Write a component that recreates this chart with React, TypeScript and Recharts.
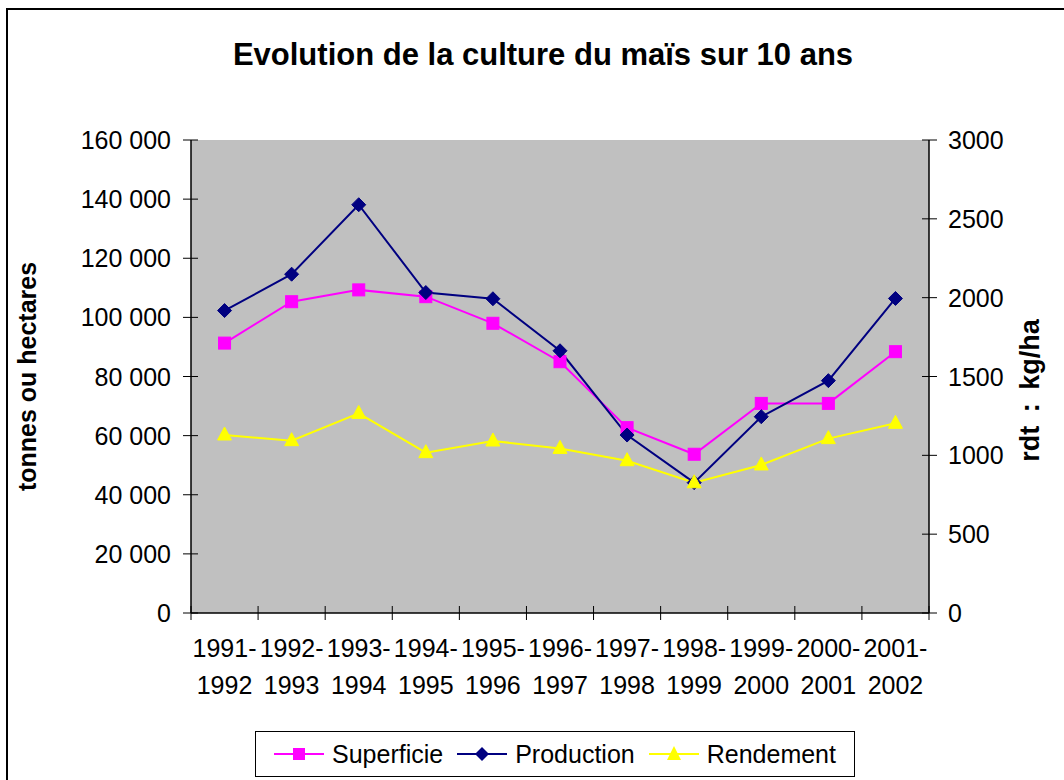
import React from 'react';
import { LineChart, Line, XAxis, YAxis, Legend } from 'recharts';

const categories = ['1991-1992', '1992-1993', '1993-1994', '1994-1995', '1995-1996', '1996-1997', '1997-1998', '1998-1999', '1999-2000', '2000-2001', '2001-2002'];
const superficie = [91300, 105300, 109300, 107000, 98000, 85000, 62700, 53700, 70900, 70900, 88400];
const production = [102300, 114600, 138100, 108400, 106300, 88700, 60200, 44100, 66400, 78600, 106400];
const rendement = [1129, 1093, 1266, 1017, 1091, 1044, 966, 826, 939, 1106, 1203];
const leftTicks = [0, 20000, 40000, 60000, 80000, 100000, 120000, 140000, 160000];
const rightTicks = [0, 500, 1000, 1500, 2000, 2500, 3000];

const data = categories.map((c, i) => ({
  cat: c,
  Superficie: superficie[i],
  Production: production[i],
  Rendement: rendement[i],
}));

const FONT = '"Liberation Sans", Arial, sans-serif';
const FS = 25;
const PLOT_W = 738;
const BW = PLOT_W / categories.length;

const fmt = (v: number) => String(v).replace(/\B(?=(\d{3})+(?!\d))/g, ' ');

const LeftTick = (props: any) => {
  const { x, y, payload } = props;
  return (
    <g>
      <line x1={x - 8} y1={y} x2={x + 7} y2={y} stroke="#000" strokeWidth={1} />
      <text x={x - 20} y={y} dy={9} textAnchor="end" fontSize={FS} fontFamily={FONT} fill="#000">{fmt(payload.value)}</text>
    </g>
  );
};

const RightTick = (props: any) => {
  const { x, y, payload } = props;
  return (
    <g>
      <line x1={x - 7} y1={y} x2={x + 8} y2={y} stroke="#000" strokeWidth={1} />
      <text x={x + 19} y={y} dy={9} textAnchor="start" fontSize={FS} fontFamily={FONT} fill="#000">{payload.value}</text>
    </g>
  );
};

const XTick = (props: any) => {
  const { x, y, payload, index } = props;
  const [a, b] = String(payload.value).split('-');
  return (
    <g>
      <line x1={x - BW / 2} y1={y - 7} x2={x - BW / 2} y2={y + 7} stroke="#000" strokeWidth={1} />
      {index === categories.length - 1 && (
        <line x1={x + BW / 2} y1={y - 7} x2={x + BW / 2} y2={y + 7} stroke="#000" strokeWidth={1} />
      )}
      <text textAnchor="middle" fontSize={FS} fontFamily={FONT} fill="#000">
        <tspan x={x} y={y + 44}>{a + '-'}</tspan>
        <tspan x={x} y={y + 81}>{b}</tspan>
      </text>
    </g>
  );
};

const SquareDot = (props: any) => {
  const { cx, cy } = props;
  if (cx == null || cy == null) return null;
  return <rect x={cx - 6} y={cy - 6} width={12} height={12} fill="#FF00FF" stroke="#FF00FF" />;
};
const DiamondDot = (props: any) => {
  const { cx, cy } = props;
  if (cx == null || cy == null) return null;
  return <polygon points={`${cx},${cy - 7} ${cx + 7},${cy} ${cx},${cy + 7} ${cx - 7},${cy}`} fill="#000080" stroke="#000080" />;
};
const TriDot = (props: any) => {
  const { cx, cy } = props;
  if (cx == null || cy == null) return null;
  return <polygon points={`${cx},${cy - 8} ${cx + 7},${cy + 5} ${cx - 7},${cy + 5}`} fill="#FFFF00" stroke="#FFFF00" />;
};

const legendItems = [
  { name: 'Superficie', color: '#FF00FF', shape: 'square' },
  { name: 'Production', color: '#000080', shape: 'diamond' },
  { name: 'Rendement', color: '#FFFF00', shape: 'triangle' },
];

const LegendContent = () => (
  <div style={{ display: 'flex', alignItems: 'center', justifyContent: 'center', width: '100%', height: '100%', boxSizing: 'border-box', border: '1px solid #000', background: '#fff', fontFamily: FONT, fontSize: FS, gap: 14 }}>
    {legendItems.map((it) => (
      <div key={it.name} style={{ display: 'flex', alignItems: 'center' }}>
        <svg width={50} height={20} style={{ marginRight: 8 }}>
          <line x1={0} y1={10} x2={50} y2={10} stroke={it.color} strokeWidth={2} />
          {it.shape === 'square' && <rect x={19} y={4} width={12} height={12} fill={it.color} />}
          {it.shape === 'diamond' && <polygon points="25,3 32,10 25,17 18,10" fill={it.color} />}
          {it.shape === 'triangle' && <polygon points="25,2 32,16 18,16" fill={it.color} />}
        </svg>
        <span>{it.name}</span>
      </div>
    ))}
  </div>
);

export default function App() {
  return (
    <div style={{ position: 'absolute', left: 6, top: 8, width: 1058, height: 772, borderLeft: '2px solid #000', borderTop: '2px solid #000', background: '#fff', boxSizing: 'border-box' }}>
      <div style={{ position: 'absolute', left: 0, width: 1070, top: 27, textAlign: 'center', fontFamily: FONT, fontWeight: 'bold', fontSize: 31, color: '#000' }}>
        Evolution de la culture du maïs sur 10 ans
      </div>
      <LineChart width={1056} height={770} data={data} margin={{ top: 130, right: 35, left: 0, bottom: 67 }}>
        <rect x={183} y={130} width={PLOT_W} height={473} fill="#C0C0C0" />
        <XAxis dataKey="cat" scale="band" xAxisId="x" height={100} axisLine={{ stroke: '#000', strokeWidth: 1.5 }} tickLine={false} tickSize={0} tickMargin={0} interval={0} tick={<XTick />} />
        <YAxis yAxisId="left" orientation="left" width={183} domain={[0, 160000]} ticks={leftTicks} axisLine={{ stroke: '#000', strokeWidth: 1.5 }} tickLine={false} tickSize={0} tickMargin={0} tick={<LeftTick />}
          label={{ value: 'tonnes ou hectares', angle: -90, position: 'insideLeft', dx: 14, dy: 0, style: { fontFamily: FONT, fontWeight: 'bold', fontSize: FS, fill: '#000', textAnchor: 'middle' } }} />
        <YAxis yAxisId="right" orientation="right" width={100} domain={[0, 3000]} ticks={rightTicks} axisLine={{ stroke: '#000', strokeWidth: 1.5 }} tickLine={false} tickSize={0} tickMargin={0} tick={<RightTick />}
          label={{ value: 'rdt : kg/ha', angle: -90, position: 'insideRight', dx: 5, dy: 14, style: { fontFamily: FONT, fontWeight: 'bold', fontSize: 27, fill: '#000', textAnchor: 'middle', wordSpacing: 6 } }} />
        <Line xAxisId="x" yAxisId="left" type="linear" dataKey="Superficie" stroke="#FF00FF" strokeWidth={2} dot={<SquareDot />} activeDot={false} isAnimationActive={false} />
        <Line xAxisId="x" yAxisId="left" type="linear" dataKey="Production" stroke="#000080" strokeWidth={2} dot={<DiamondDot />} activeDot={false} isAnimationActive={false} />
        <Line xAxisId="x" yAxisId="right" type="linear" dataKey="Rendement" stroke="#FFFF00" strokeWidth={2} dot={<TriDot />} activeDot={false} isAnimationActive={false} />
        <Legend layout="vertical" align="center" verticalAlign="middle" content={<LegendContent />}
          wrapperStyle={{ left: 247, top: 721, width: 600, height: 46 }} />
      </LineChart>
    </div>
  );
}
